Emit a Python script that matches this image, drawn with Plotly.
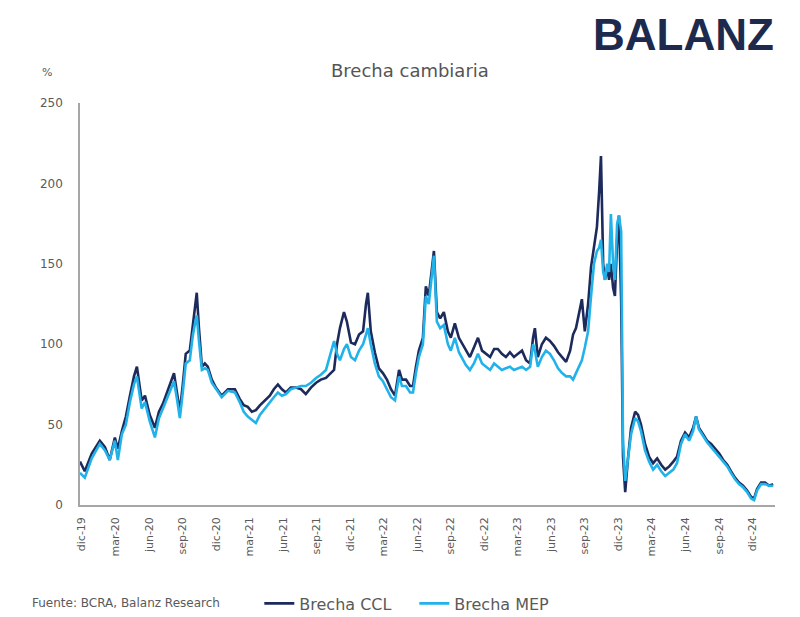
import plotly.graph_objects as go

dates = [
    "2019-11-26", "2019-12-09", "2019-12-28", "2020-01-19", "2020-02-02", "2020-02-15", "2020-02-29",
    "2020-03-08", "2020-03-19", "2020-03-30", "2020-04-10", "2020-04-21", "2020-04-29", "2020-05-07",
    "2020-05-12", "2020-05-21", "2020-06-03", "2020-06-17", "2020-06-28", "2020-07-09", "2020-07-20",
    "2020-07-30", "2020-08-08", "2020-08-16", "2020-08-24", "2020-09-01", "2020-09-09", "2020-09-20",
    "2020-09-28", "2020-10-06", "2020-10-09", "2020-10-15", "2020-10-23", "2020-10-31", "2020-11-08",
    "2020-11-19", "2020-11-30", "2020-12-16", "2021-01-02", "2021-01-21", "2021-02-03", "2021-02-14",
    "2021-02-25", "2021-03-08", "2021-03-19", "2021-03-30", "2021-04-12", "2021-04-26", "2021-05-07",
    "2021-05-18", "2021-05-29", "2021-06-09", "2021-06-22", "2021-07-06", "2021-07-20", "2021-08-02",
    "2021-08-16", "2021-08-30", "2021-09-12", "2021-09-26", "2021-10-09", "2021-10-18", "2021-10-26",
    "2021-11-03", "2021-11-14", "2021-11-22", "2021-12-03", "2021-12-14", "2021-12-25", "2022-01-05",
    "2022-01-13", "2022-01-18", "2022-01-26", "2022-02-06", "2022-02-17", "2022-02-28", "2022-03-11",
    "2022-03-22", "2022-04-02", "2022-04-13", "2022-04-21", "2022-05-02", "2022-05-13", "2022-05-21",
    "2022-05-29", "2022-06-06", "2022-06-17", "2022-06-25", "2022-07-03", "2022-07-12", "2022-07-17",
    "2022-07-25", "2022-08-03", "2022-08-13", "2022-08-24", "2022-09-01", "2022-09-12", "2022-09-23",
    "2022-10-01", "2022-10-12", "2022-10-23", "2022-11-03", "2022-11-14", "2022-11-25", "2022-12-06",
    "2022-12-17", "2022-12-28", "2023-01-07", "2023-01-18", "2023-01-29", "2023-02-09", "2023-02-20",
    "2023-03-03", "2023-03-14", "2023-03-25", "2023-04-05", "2023-04-13", "2023-04-18", "2023-04-26",
    "2023-05-07", "2023-05-18", "2023-05-29", "2023-06-09", "2023-06-20", "2023-07-01", "2023-07-12",
    "2023-07-23", "2023-07-31", "2023-08-08", "2023-08-16", "2023-08-24", "2023-09-01", "2023-09-10",
    "2023-09-18", "2023-09-26", "2023-10-04", "2023-10-10", "2023-10-15", "2023-10-21", "2023-10-26",
    "2023-11-01", "2023-11-06", "2023-11-11", "2023-11-17", "2023-11-22", "2023-11-28", "2023-12-03",
    "2023-12-09", "2023-12-14", "2023-12-20", "2023-12-28", "2024-01-05", "2024-01-16", "2024-01-24",
    "2024-02-01", "2024-02-12", "2024-02-23", "2024-03-05", "2024-03-16", "2024-03-27", "2024-04-07",
    "2024-04-18", "2024-04-29", "2024-05-09", "2024-05-20", "2024-05-31", "2024-06-11", "2024-06-22",
    "2024-06-30", "2024-07-08", "2024-07-19", "2024-07-30", "2024-08-10", "2024-08-21", "2024-09-01",
    "2024-09-12", "2024-09-23", "2024-10-03", "2024-10-14", "2024-10-25", "2024-11-05", "2024-11-16",
    "2024-11-27", "2024-12-05", "2024-12-13", "2024-12-24", "2025-01-04", "2025-01-15", "2025-01-26",
]

brecha_ccl = [
    27, 21, 32, 40, 36, 28, 42,
    35, 46, 55, 68, 80, 86, 72,
    65, 68, 56, 48, 58, 63, 70,
    76, 82, 70, 58, 75, 94, 96,
    112, 124, 132, 110, 86, 88, 86,
    78, 73, 68, 72, 72, 66, 62,
    61, 58, 59, 62, 65, 68, 72,
    75, 72, 70, 73, 73, 72, 69,
    73, 76, 78, 79, 82, 84, 100,
    110, 120, 114, 101, 100, 106, 108,
    125, 132, 108, 95, 85, 82, 78,
    72, 68, 84, 78, 78, 74, 74,
    86, 96, 104, 136, 130, 150, 158,
    120, 116, 120, 108, 104, 113, 104,
    101, 97, 92, 98, 104, 96, 94,
    92, 97, 97, 94, 92, 95, 92,
    94, 96, 90, 88, 104, 110, 92,
    100, 104, 102, 99, 95, 92, 89,
    96, 106, 110, 120, 128, 108, 125,
    148, 160, 173, 195, 217, 150, 140,
    148, 140, 150, 135, 130, 165, 180,
    127, 30, 8, 30, 48, 58, 56,
    50, 38, 30, 26, 29, 25, 22,
    24, 27, 30, 40, 45, 42, 48,
    55, 48, 44, 40, 38, 35, 32,
    28, 25, 21, 17, 14, 12, 9,
    5, 4, 10, 14, 14, 12, 13,
]

brecha_mep = [
    20, 17, 29, 38, 34, 28, 40,
    28, 44, 50, 64, 75, 80, 68,
    60, 64, 52, 42, 54, 60, 66,
    72, 77, 66, 54, 70, 88, 90,
    105, 115, 118, 102, 84, 85, 84,
    76, 72, 67, 71, 70, 64, 58,
    55, 53, 51, 56, 60, 64, 67,
    70, 68, 69, 72, 73, 74, 74,
    76, 79, 81, 84, 95, 102, 94,
    90, 97, 100, 92, 90, 96, 100,
    106, 110, 100, 88, 80, 77, 72,
    67, 65, 80, 74, 74, 70, 70,
    82, 92, 100, 130, 125, 145, 155,
    114, 110, 112, 100, 96, 104, 95,
    92, 87, 84, 88, 94, 88, 86,
    84, 88, 86, 84, 85, 86, 84,
    85, 86, 84, 86, 100, 96, 86,
    92, 96, 94, 90, 85, 82, 80,
    80, 78, 82, 86, 90, 98, 108,
    130, 150, 158, 160, 165, 145, 140,
    150, 145, 181, 150, 140, 175, 180,
    170, 40, 15, 28, 44, 54, 52,
    46, 34, 27, 22, 25, 21, 18,
    20, 22, 26, 38, 44, 40, 46,
    55, 47, 43, 39, 36, 33, 30,
    27, 24, 20, 16, 13, 11, 8,
    4, 3, 9, 13, 13, 12, 12,
]

tick_dates = [
    "2019-12-01", "2020-03-01", "2020-06-01", "2020-09-01", "2020-12-01", "2021-03-01",
    "2021-06-01", "2021-09-01", "2021-12-01", "2022-03-01", "2022-06-01", "2022-09-01",
    "2022-12-01", "2023-03-01", "2023-06-01", "2023-09-01", "2023-12-01", "2024-03-01",
    "2024-06-01", "2024-09-01", "2024-12-01",
]
tick_labels = [
    "dic-19", "mar-20", "jun-20", "sep-20", "dic-20", "mar-21",
    "jun-21", "sep-21", "dic-21", "mar-22", "jun-22", "sep-22",
    "dic-22", "mar-23", "jun-23", "sep-23", "dic-23", "mar-24",
    "jun-24", "sep-24", "dic-24",
]

CCL_COLOR = "#1c2a5c"
MEP_COLOR = "#22b2ea"
GRAY = "#5a5a5a"
FONT = "DejaVu Sans, Verdana, sans-serif"

fig = go.Figure()
fig.add_trace(go.Scatter(x=dates, y=brecha_ccl, mode="lines", name="Brecha CCL",
                         line=dict(color=CCL_COLOR, width=2.6), legend="legend"))
fig.add_trace(go.Scatter(x=dates, y=brecha_mep, mode="lines", name="Brecha MEP",
                         line=dict(color=MEP_COLOR, width=2.6), legend="legend2"))

legend_common = dict(orientation="h", y=-0.245, xanchor="left", yanchor="middle",
                     font=dict(size=16, color=GRAY), itemwidth=30,
                     bgcolor="rgba(0,0,0,0)")

fig.update_layout(
    width=800, height=617,
    margin=dict(l=72, r=33, t=95, b=120, autoexpand=False),
    paper_bgcolor="white", plot_bgcolor="white",
    font=dict(family=FONT, color=GRAY),
    showlegend=True,
    legend=dict(x=0.258, **legend_common),
    legend2=dict(x=0.481, **legend_common),
    xaxis=dict(
        type="date", range=["2019-11-26", "2025-01-31"],
        tickmode="array", tickvals=tick_dates, ticktext=tick_labels,
        tickangle=-90, tickfont=dict(size=11, color=GRAY),
        showgrid=False, zeroline=False, showline=True, linecolor="#a6a6a6", linewidth=1.5,
        ticks="", ticklen=0, ticklabelstandoff=6,
    ),
    yaxis=dict(
        range=[0, 250], tickvals=[0, 50, 100, 150, 200, 250],
        tickfont=dict(size=12, color=GRAY),
        showgrid=False, zeroline=False, showline=True, linecolor="#a6a6a6", linewidth=1.5,
        ticks="", ticklabelstandoff=13,
    ),
    annotations=[
        dict(text="Brecha cambiaria", xref="paper", yref="paper", x=0.475, y=1.082,
             xanchor="center", yanchor="middle",
             showarrow=False, font=dict(size=18, color="#555555")),
        dict(text="%", xref="paper", yref="paper", x=-0.0475, y=1.077,
             xanchor="center", yanchor="middle",
             showarrow=False, font=dict(size=11, color=GRAY)),
        dict(text="<b>BALANZ</b>", xref="paper", yref="paper", x=0.735, y=1.17,
             xanchor="left", yanchor="middle", showarrow=False,
             font=dict(family="Liberation Sans, Arial, sans-serif", size=44, color="#1d2a4d")),
        dict(text="Fuente: BCRA, Balanz Research", xref="paper", yref="paper", x=-0.072, y=-0.244,
             xanchor="left", yanchor="middle", showarrow=False, font=dict(size=12, color=GRAY)),
    ],
)

fig.write_html("out.html")
